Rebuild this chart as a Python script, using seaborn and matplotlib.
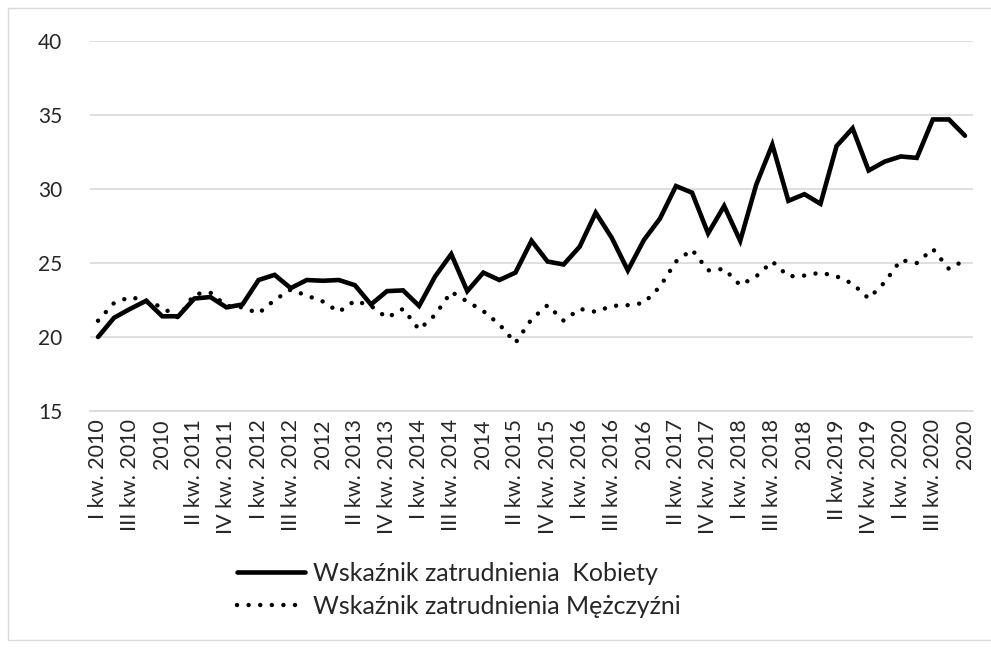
import matplotlib
matplotlib.use("Agg")
import matplotlib.pyplot as plt
import seaborn as sns
import pandas as pd
import numpy as np
from matplotlib.lines import Line2D
from matplotlib.patches import Rectangle

years = list(range(2010, 2021))
quarters = ["I kw.", "II kw.", "III kw.", "IV kw."]
categories = []
for y in years:
    for q in quarters:
        categories.append(f"{q} {y}" if not (q == "II kw." and y == 2019) else f"{q}{y}")
    categories.append(f"{y}")

kobiety = [20.0, 21.3, 21.9, 22.45, 21.4, 21.4, 22.6, 22.7, 22.0, 22.2,
           23.85, 24.2, 23.3, 23.85, 23.8, 23.85, 23.5, 22.2, 23.1, 23.15,
           22.1, 24.1, 25.6, 23.1, 24.35, 23.85, 24.35, 26.5, 25.1, 24.9,
           26.1, 28.4, 26.7, 24.5, 26.55, 28.0, 30.2, 29.75, 27.0, 28.85,
           26.5, 30.3, 33.0, 29.2, 29.65, 29.0, 32.9, 34.1, 31.25, 31.85,
           32.2, 32.1, 34.7, 34.7, 33.6]
mezczyzni = [21.1, 22.3, 22.7, 22.45, 22.0, 21.3, 22.9, 23.0, 22.1, 22.0,
             21.6, 22.5, 23.2, 22.8, 22.4, 21.7, 22.45, 22.1, 21.3, 21.9,
             20.5, 21.5, 23.05, 22.4, 21.75, 20.85, 19.6, 21.2, 22.15, 21.1,
             21.9, 21.7, 22.1, 22.15, 22.3, 23.4, 25.1, 25.9, 24.5, 24.6,
             23.5, 24.1, 25.1, 24.1, 24.15, 24.35, 24.1, 23.6, 22.6, 23.7,
             25.2, 25.0, 25.95, 24.6, 25.2]
series_names = ["Wskaźnik zatrudnienia  Kobiety", "Wskaźnik zatrudnienia Mężczyźni"]
yticks = [15, 20, 25, 30, 35, 40]

sns.set_theme(style="white")
plt.rcParams['font.family'] = ['Lato', 'DejaVu Sans']

idx = np.arange(len(categories))
df = pd.concat([
    pd.DataFrame({"idx": idx, "value": kobiety, "series": series_names[0]}),
    pd.DataFrame({"idx": idx, "value": mezczyzni, "series": series_names[1]}),
])

fig = plt.figure(figsize=(9.91, 6.51), dpi=100)
ax = fig.add_axes([90/991, 1-411/651, (973-90)/991, (411-41)/651])

txt = '#262626'
dot_style = (0, (0.01, 2.6))
sns.lineplot(data=df[df.series == series_names[0]], x="idx", y="value", ax=ax,
             color="black", linewidth=3.3, legend=False, sort=False,
             solid_joinstyle='miter')
sns.lineplot(data=df[df.series == series_names[1]], x="idx", y="value", ax=ax,
             color="black", linewidth=3.2, legend=False, sort=False,
             dashes=False)
ax.lines[1].set_linestyle(dot_style)
ax.lines[1].set_dash_capstyle('round')

ax.set_xlim(-0.5, len(categories) - 0.5)
ax.set_ylim(15, 40)
ax.set_yticks(yticks)
ax.set_yticklabels([str(t) for t in yticks], fontsize=15, color=txt)
ax.set_xticks(idx[::2])
ax.set_xticklabels(categories[::2], rotation=90, fontsize=15.5, color=txt)
ax.tick_params(axis='x', length=0, pad=6)
ax.tick_params(axis='y', length=0, pad=20)
ax.set_xlabel("")
ax.set_ylabel("")
ax.grid(axis='y', color='#d9d9d9', linewidth=1.2)
ax.set_axisbelow(True)
for s in ['top', 'right', 'left']:
    ax.spines[s].set_visible(False)
ax.spines['bottom'].set_color('#d9d9d9')
ax.spines['bottom'].set_linewidth(1.2)

# chart area border
fig.patches.append(Rectangle((8/991, 1-640/651), 1.2, (640-8)/651, transform=fig.transFigure,
                             fill=False, edgecolor='#d9d9d9', linewidth=1.0))

handles = [Line2D([0], [0], color='black', linewidth=3.3),
           Line2D([0], [0], color='black', linewidth=3.2, linestyle=dot_style,
                  dash_capstyle='round')]
leg = fig.legend(handles, series_names, loc='center left', bbox_to_anchor=(0.216, 0.094),
                 frameon=False, fontsize=18, handlelength=2.75, handletextpad=0.32,
                 labelspacing=0.38)
for t in leg.get_texts():
    t.set_color(txt)

fig.savefig("out.png", dpi=100)
